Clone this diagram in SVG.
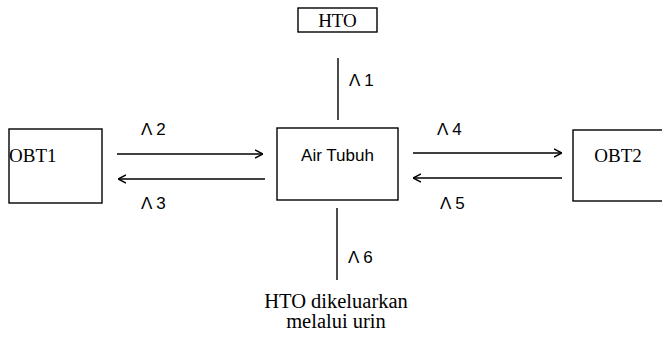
<svg xmlns="http://www.w3.org/2000/svg" width="662" height="337" viewBox="0 0 662 337">
<style>
.box{fill:#fff;stroke:#000;stroke-width:1.4}
.ln{stroke:#000;stroke-width:1.4;fill:none}
.serif{font-family:"Liberation Serif",serif;font-size:19px;fill:#000}
.big{font-size:20.5px}
.sans{font-family:"Liberation Sans",sans-serif;font-size:17px;fill:#000}
.lab{font-family:"Liberation Sans",sans-serif;font-size:17px;fill:#000}
</style>
<defs>
<marker id="ah" viewBox="0 0 8 10" refX="8" refY="5" markerWidth="8" markerHeight="10" markerUnits="userSpaceOnUse" orient="auto">
<path d="M0,1 L8,5 L0,9" fill="none" stroke="#000" stroke-width="1.4"/>
</marker>
</defs>
<rect width="662" height="337" fill="#fff"/>
<g id="connectors">
<line class="ln" x1="338" y1="58" x2="338" y2="120"/>
<line class="ln" x1="117" y1="154" x2="263" y2="154" marker-end="url(#ah)"/>
<line class="ln" x1="265" y1="179" x2="118" y2="179" marker-end="url(#ah)"/>
<line class="ln" x1="413" y1="153" x2="562" y2="153" marker-end="url(#ah)"/>
<line class="ln" x1="562" y1="178" x2="413" y2="178" marker-end="url(#ah)"/>
<line class="ln" x1="337" y1="208" x2="337" y2="280"/>
<text class="lab" x="349" y="86">Λ 1</text>
<text class="lab" x="141" y="135">Λ 2</text>
<text class="lab" x="141" y="209">Λ 3</text>
<text class="lab" x="437" y="135">Λ 4</text>
<text class="lab" x="440" y="209">Λ 5</text>
<text class="lab" x="348" y="263">Λ 6</text>
</g>
<g id="hto">
<rect class="box" x="298" y="8" width="79" height="24"/>
<text class="serif" x="337.5" y="27" text-anchor="middle">HTO</text>
</g>
<g id="obt1">
<rect class="box" x="9" y="129" width="93" height="74"/>
<text class="serif" x="9" y="162">OBT1</text>
</g>
<g id="air">
<rect class="box" x="277" y="128" width="121" height="72"/>
<text class="sans" x="337.5" y="161" text-anchor="middle">Air Tubuh</text>
</g>
<g id="obt2">
<rect class="box" x="573" y="130" width="95" height="71"/>
<text class="serif" x="618" y="162" text-anchor="middle">OBT2</text>
</g>
<g id="urin">
<text class="serif big" x="336" y="308" text-anchor="middle">HTO dikeluarkan</text>
<text class="serif big" x="336" y="328" text-anchor="middle">melalui urin</text>
</g>
</svg>
